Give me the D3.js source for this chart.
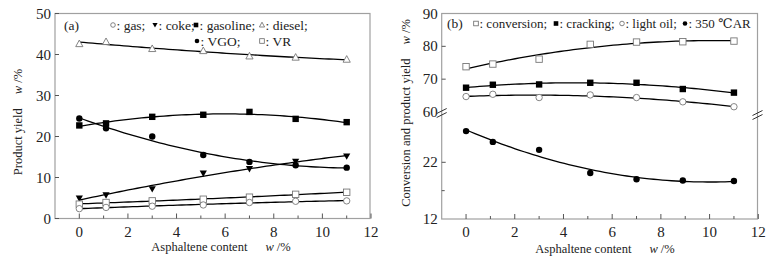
<!DOCTYPE html>
<html><head><meta charset="utf-8">
<script src="https://cdn.jsdelivr.net/npm/d3@7"></script>
<style>
body{margin:0;background:#fff;}
svg text{font-family:"Liberation Serif","Times New Roman","DejaVu Serif",serif;}
</style></head>
<body><svg id="c" width="782" height="266" font-family="Liberation Serif, Times New Roman, serif"></svg>
<script>
// ---------- data ----------
const asphaltene = [0, 1.1, 3.0, 5.1, 7.0, 8.9, 11.0];
// panel (a) product yields, w/%
const gas      = [2.4, 2.7, 3.0, 3.3, 3.9, 4.2, 4.3];
const coke     = [4.9, 5.7, 7.2, 11.0, 12.1, 13.9, 15.2];
const gasoline = [22.7, 23.2, 24.8, 25.3, 26.0, 24.3, 23.5];
const diesel   = [42.6, 43.1, 41.4, 40.9, 39.6, 39.3, 38.8];
const vgo      = [24.4, 22.0, 20.0, 15.5, 13.8, 13.0, 12.4];
const vr       = [3.5, 3.9, 4.3, 4.7, 5.2, 5.9, 6.4];
// panel (b) conversion and product yields, w/%
const conversion = [73.8, 74.6, 76.1, 80.6, 81.3, 81.4, 81.6];
const cracking   = [67.4, 68.3, 68.4, 68.9, 68.9, 67.0, 65.9];
const lightOil   = [64.7, 65.4, 64.4, 65.2, 64.4, 63.1, 61.6];
const ar350      = [27.5, 25.6, 24.2, 20.1, 19.0, 18.8, 18.7];
// ticks
const xTicks = [0, 2, 4, 6, 8, 10, 12];
const yTicksA = [0, 10, 20, 30, 40, 50];
const yTicksBUpper = [60, 70, 80, 90];
const yTicksBLower = [12, 22];

// ---------- helpers ----------
function polyfit(xs, ys, deg) {
  const n = deg + 1;
  const A = Array.from({length: n}, () => new Array(n + 1).fill(0));
  for (let i = 0; i < xs.length; i++) {
    for (let r = 0; r < n; r++) {
      for (let c = 0; c < n; c++) A[r][c] += Math.pow(xs[i], r + c);
      A[r][n] += ys[i] * Math.pow(xs[i], r);
    }
  }
  for (let i = 0; i < n; i++) {
    let p = i;
    for (let k = i + 1; k < n; k++) if (Math.abs(A[k][i]) > Math.abs(A[p][i])) p = k;
    [A[i], A[p]] = [A[p], A[i]];
    for (let k = i + 1; k < n; k++) {
      const f = A[k][i] / A[i][i];
      for (let c = i; c <= n; c++) A[k][c] -= f * A[i][c];
    }
  }
  const co = new Array(n).fill(0);
  for (let i = n - 1; i >= 0; i--) {
    let s = A[i][n];
    for (let c = i + 1; c < n; c++) s -= A[i][c] * co[c];
    co[i] = s / A[i][i];
  }
  return x => co.reduce((s, c, i) => s + c * Math.pow(x, i), 0);
}
function fitPoints(ys, deg) {
  const f = polyfit(asphaltene, ys, deg);
  const x0 = asphaltene[0], x1 = asphaltene[asphaltene.length - 1];
  return d3.range(0, 61).map(i => { const x = x0 + (x1 - x0) * i / 60; return [x, f(x)]; });
}

const svg = d3.select("#c");
const AX = "#a0a0a0";
const TXT = "#222";
const FONT = "Liberation Serif, Times New Roman, serif";

function drawMarker(g, type, cx, cy) {
  const s = 3.2;
  if (type === "ocircle") g.append("circle").attr("cx", cx).attr("cy", cy).attr("r", s).attr("fill", "#fff").attr("stroke", "#777").attr("stroke-width", 0.9);
  else if (type === "fcircle") g.append("circle").attr("cx", cx).attr("cy", cy).attr("r", s).attr("fill", "#000");
  else if (type === "osquare") g.append("rect").attr("x", cx - s).attr("y", cy - s).attr("width", 2 * s).attr("height", 2 * s).attr("fill", "#fff").attr("stroke", "#777").attr("stroke-width", 0.9);
  else if (type === "fsquare") g.append("rect").attr("x", cx - s).attr("y", cy - s).attr("width", 2 * s).attr("height", 2 * s).attr("fill", "#000");
  else if (type === "otri") g.append("path").attr("d", `M${cx},${cy - s - 0.6}L${cx + s + 0.4},${cy + s - 0.4}L${cx - s - 0.4},${cy + s - 0.4}Z`).attr("fill", "#fff").attr("stroke", "#777").attr("stroke-width", 0.9);
  else if (type === "ftridown") g.append("path").attr("d", `M${cx},${cy + s + 0.4}L${cx + s + 0.4},${cy - s + 0.4}L${cx - s - 0.4},${cy - s + 0.4}Z`).attr("fill", "#000");
}
function legendMarker(g, type, cx, cy) {
  const s = 2.3;
  if (type === "ocircle") g.append("circle").attr("cx", cx).attr("cy", cy).attr("r", s).attr("fill", "#fff").attr("stroke", "#666").attr("stroke-width", 0.8);
  else if (type === "fcircle") g.append("circle").attr("cx", cx).attr("cy", cy).attr("r", s).attr("fill", "#000");
  else if (type === "osquare") g.append("rect").attr("x", cx - s).attr("y", cy - s).attr("width", 2 * s).attr("height", 2 * s).attr("fill", "#fff").attr("stroke", "#666").attr("stroke-width", 0.8);
  else if (type === "fsquare") g.append("rect").attr("x", cx - s).attr("y", cy - s).attr("width", 2 * s).attr("height", 2 * s).attr("fill", "#000");
  else if (type === "otri") g.append("path").attr("d", `M${cx},${cy - s - 0.5}L${cx + s + 0.3},${cy + s - 0.3}L${cx - s - 0.3},${cy + s - 0.3}Z`).attr("fill", "#fff").attr("stroke", "#666").attr("stroke-width", 0.8);
  else if (type === "ftridown") g.append("path").attr("d", `M${cx},${cy + s + 0.3}L${cx + s + 0.3},${cy - s + 0.3}L${cx - s - 0.3},${cy - s + 0.3}Z`).attr("fill", "#000");
}

function txt(x, y, s, opts = {}) {
  return svg.append("text").attr("x", x).attr("y", y).attr("font-family", FONT)
    .attr("font-size", opts.size || 13).attr("fill", TXT).attr("text-anchor", opts.anchor || "start").text(s);
}

function drawFrame(x0, y0, x1, y1) {
  svg.append("rect").attr("x", x0).attr("y", y0).attr("width", x1 - x0).attr("height", y1 - y0)
    .attr("fill", "none").attr("stroke", AX).attr("stroke-width", 1.2);
}

function xAxis(x, yBottom) {
  xTicks.forEach(t => {
    svg.append("line").attr("x1", x(t)).attr("x2", x(t)).attr("y1", yBottom).attr("y2", yBottom - 5).attr("stroke", "#555").attr("stroke-width", 1);
    txt(x(t), yBottom + 18, t, {size: 15, anchor: "middle"});
  });
  d3.range(1, 12, 2).forEach(t => {
    svg.append("line").attr("x1", x(t)).attr("x2", x(t)).attr("y1", yBottom).attr("y2", yBottom - 3).attr("stroke", "#555").attr("stroke-width", 1);
  });
}

function series(g, x, y, ys, type, deg) {
  const line = d3.line().x(d => x(d[0])).y(d => y(d[1]));
  g.append("path").attr("d", line(fitPoints(ys, deg))).attr("fill", "none").attr("stroke", "#000").attr("stroke-width", 1.3);
  ys.forEach((v, i) => drawMarker(g, type, x(asphaltene[i]), y(v)));
}

function axisTitle(x, y, label, rotate) {
  const t = svg.append("text").attr("font-family", FONT).attr("font-size", 12.5).attr("fill", TXT).attr("text-anchor", "middle");
  if (rotate) t.attr("transform", `translate(${x},${y}) rotate(-90)`); else t.attr("x", x).attr("y", y);
  t.append("tspan").text(label);
  t.append("tspan").attr("dx", rotate ? 14 : 18).attr("font-style", "italic").text("w");
  t.append("tspan").text(" /%");
}

// ---------- panel (a) ----------
{
  const L = 55, R = 370, T = 13.5, B = 218.5;
  const x = d3.scaleLinear().domain([-1, 12]).range([L, L + 316]);
  const y = d3.scaleLinear().domain([0, 50]).range([B, T]);
  drawFrame(L, T, R, B);
  yTicksA.forEach(t => {
    svg.append("line").attr("x1", L).attr("x2", L + 4).attr("y1", y(t)).attr("y2", y(t)).attr("stroke", "#555");
    txt(L - 4, y(t) + 5, t, {size: 15, anchor: "end"});
  });
  xAxis(x, B);
  const g = svg.append("g");
  series(g, x, y, diesel, "otri", 2);
  series(g, x, y, gasoline, "fsquare", 2);
  series(g, x, y, vgo, "fcircle", 2);
  series(g, x, y, coke, "ftridown", 2);
  series(g, x, y, vr, "osquare", 2);
  series(g, x, y, gas, "ocircle", 2);

  txt(64, 30, "(a)", {size: 13.5});
  const lg = svg.append("g");
  const items1 = [["ocircle", ": gas;", 113], ["ftridown", ": coke;", 155], ["fsquare", ": gasoline;", 196], ["otri", " : diesel;", 262]];
  items1.forEach(([t, s, px]) => { legendMarker(lg, t, px, 25); txt(px + 3.5, 29.5, s, {size: 13.5}); });
  const items2 = [["fcircle", ": VGO;", 197], ["osquare", ": VR", 262]];
  items2.forEach(([t, s, px]) => { legendMarker(lg, t, px, 41); txt(px + 3.5, 45.5, s, {size: 13.5}); });

  axisTitle(22, 122, "Product yield", true);
  axisTitle(221, 251, "Asphaltene content", false);
}

// ---------- panel (b) ----------
{
  const L = 441.7, R = 757.5, T = 13.5, B = 219, BRK = 113;
  const x = d3.scaleLinear().domain([-1, 12]).range([L, L + 316.6]);
  const yU = d3.scaleLinear().domain([60, 90]).range([112, T]);
  const yL = d3.scaleLinear().domain([12, 22]).range([B, 162.3]);
  drawFrame(L, T, R, B);
  yTicksBUpper.forEach(t => {
    if (t !== 90 && t !== 60) svg.append("line").attr("x1", L).attr("x2", L + 4).attr("y1", yU(t)).attr("y2", yU(t)).attr("stroke", "#555");
    txt(L - 4, yU(t) + 5, t, {size: 15, anchor: "end"});
  });
  yTicksBLower.forEach(t => {
    if (t !== 12) svg.append("line").attr("x1", L).attr("x2", L + 4).attr("y1", yL(t)).attr("y2", yL(t)).attr("stroke", "#555");
    txt(L - 4, yL(t) + 5, t, {size: 15, anchor: "end"});
  });
  svg.append("line").attr("x1", L).attr("x2", L + 3).attr("y1", yL(17)).attr("y2", yL(17)).attr("stroke", "#555");
  xAxis(x, B);
  [[L, BRK], [R, BRK + 2]].forEach(([bx, by]) => {
    [-2, 2].forEach(o => {
      svg.append("line").attr("x1", bx - 5).attr("x2", bx + 5).attr("y1", by + o + 2.5).attr("y2", by + o - 2.5).attr("stroke", "#333").attr("stroke-width", 1);
    });
  });
  const g = svg.append("g");
  series(g, x, yU, conversion, "osquare", 2);
  series(g, x, yU, cracking, "fsquare", 2);
  series(g, x, yU, lightOil, "ocircle", 2);
  series(g, x, yL, ar350, "fcircle", 2);

  txt(447, 28, "(b)", {size: 13.5});
  const lg = svg.append("g");
  const items = [["osquare", ": conversion;", 476], ["fsquare", ": cracking;", 556], ["ocircle", ": light oil;", 622], ["fcircle", ": 350 ℃AR", 685]];
  items.forEach(([t, s, px]) => { legendMarker(lg, t, px, 23.5); txt(px + 3.5, 28, s); });

  axisTitle(410, 113, "Conversion and product yield", true);
  axisTitle(605, 253, "Asphaltene content", false);
}
</script></body></html>
